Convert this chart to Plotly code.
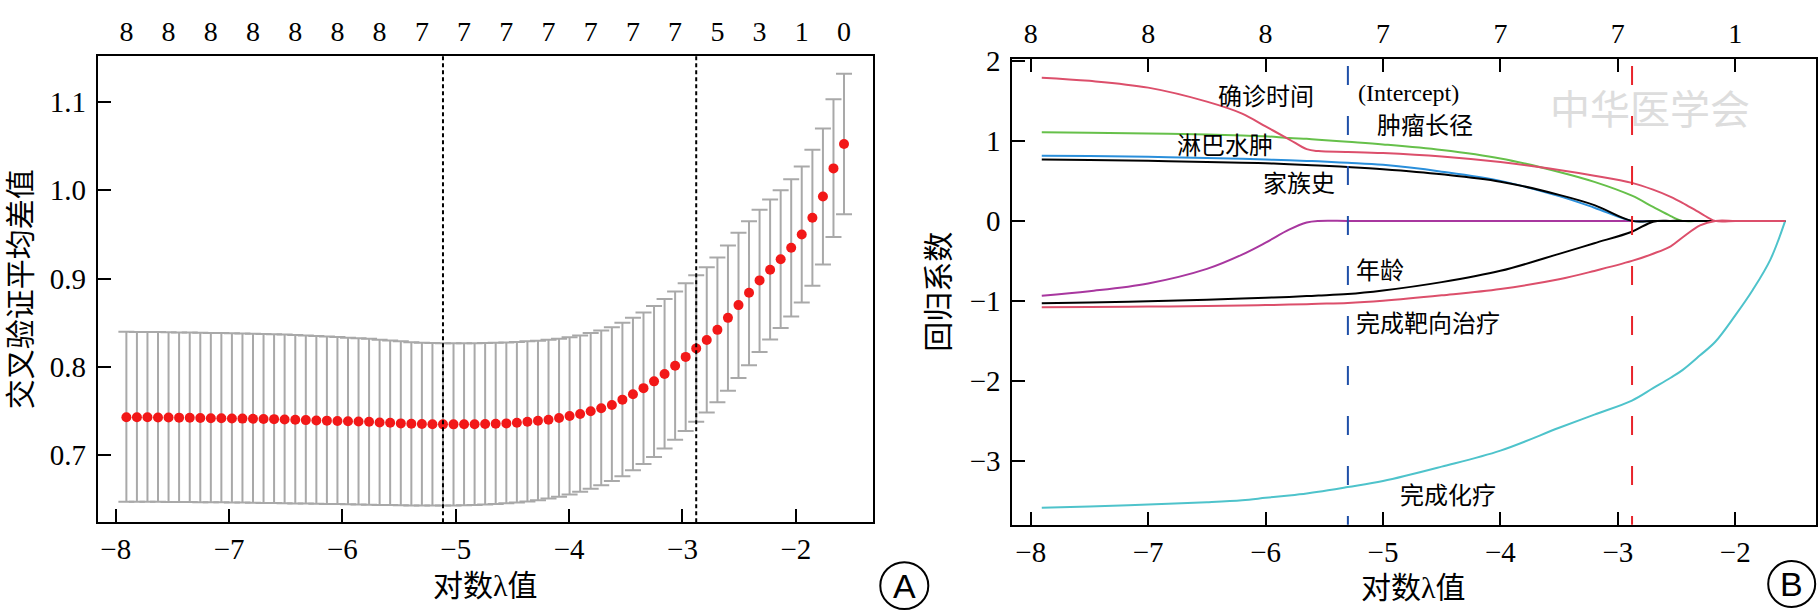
import plotly.graph_objects as go

# ---- panel A: cross-validation curve ----
log_lambda = [
    -7.906, -7.813, -7.720, -7.627, -7.534, -7.441, -7.347, -7.254, -7.161, -7.068,
    -6.975, -6.882, -6.789, -6.696, -6.603, -6.510, -6.416, -6.323, -6.230, -6.137,
    -6.044, -5.951, -5.858, -5.765, -5.672, -5.579, -5.485, -5.392, -5.299, -5.206,
    -5.113, -5.020, -4.927, -4.834, -4.741, -4.648, -4.554, -4.461, -4.368, -4.275,
    -4.182, -4.089, -3.996, -3.903, -3.810, -3.717, -3.623, -3.530, -3.437, -3.344,
    -3.251, -3.158, -3.065, -2.972, -2.879, -2.786, -2.692, -2.599, -2.506, -2.413,
    -2.320, -2.227, -2.134, -2.041, -1.948, -1.854, -1.761, -1.668, -1.575,
]
cv_mean = [
    0.7431, 0.7431, 0.7430, 0.7428, 0.7427, 0.7426, 0.7424, 0.7423, 0.7420, 0.7419,
    0.7416, 0.7415, 0.7413, 0.7411, 0.7409, 0.7405, 0.7402, 0.7398, 0.7394, 0.7392,
    0.7389, 0.7386, 0.7382, 0.7379, 0.7372, 0.7368, 0.7361, 0.7358, 0.7354, 0.7351,
    0.7350, 0.7350, 0.7351, 0.7352, 0.7354, 0.7357, 0.7361, 0.7368, 0.7380, 0.7391,
    0.7402, 0.7422, 0.7444, 0.7468, 0.7498, 0.7533, 0.7570, 0.7630, 0.7690, 0.7760,
    0.7837, 0.7920, 0.8014, 0.8114, 0.8210, 0.8306, 0.8420, 0.8556, 0.8700, 0.8840,
    0.8980, 0.9100, 0.9220, 0.9350, 0.9500, 0.9690, 0.9930, 1.0248, 1.0525,
]
cv_upper = [
    0.8398, 0.8397, 0.8396, 0.8395, 0.8393, 0.8391, 0.8389, 0.8387, 0.8385, 0.8383,
    0.8381, 0.8378, 0.8375, 0.8372, 0.8369, 0.8366, 0.8362, 0.8357, 0.8351, 0.8345,
    0.8339, 0.8332, 0.8326, 0.8318, 0.8309, 0.8299, 0.8290, 0.8281, 0.8275, 0.8271,
    0.8269, 0.8268, 0.8268, 0.8269, 0.8271, 0.8274, 0.8278, 0.8283, 0.8290, 0.8298,
    0.8308, 0.8320, 0.8336, 0.8355, 0.8385, 0.8414, 0.8450, 0.8500, 0.8557, 0.8616,
    0.8690, 0.8770, 0.8853, 0.8948, 0.9037, 0.9130, 0.9240, 0.9376, 0.9520, 0.9650,
    0.9780, 0.9897, 1.0000, 1.0126, 1.0270, 1.0460, 1.0700, 1.1030, 1.1320,
]
cv_lower = [
    0.6475, 0.6475, 0.6474, 0.6473, 0.6472, 0.6471, 0.6470, 0.6469, 0.6468, 0.6467,
    0.6465, 0.6464, 0.6463, 0.6461, 0.6459, 0.6457, 0.6455, 0.6453, 0.6451, 0.6449,
    0.6447, 0.6445, 0.6443, 0.6441, 0.6438, 0.6436, 0.6434, 0.6432, 0.6431, 0.6430,
    0.6430, 0.6431, 0.6434, 0.6438, 0.6443, 0.6449, 0.6456, 0.6465, 0.6476, 0.6490,
    0.6510, 0.6530, 0.6556, 0.6586, 0.6622, 0.6660, 0.6710, 0.6763, 0.6830, 0.6900,
    0.6980, 0.7077, 0.7176, 0.7276, 0.7380, 0.7483, 0.7600, 0.7730, 0.7874, 0.8020,
    0.8170, 0.8310, 0.8440, 0.8570, 0.8730, 0.8920, 0.9160, 0.9470, 0.9730,
]
cv_top_labels = ["8", "8", "8", "8", "8", "8", "8", "7", "7", "7",
                 "7", "7", "7", "7", "5", "3", "1", "0"]
cv_yticks = [0.7, 0.8, 0.9, 1.0, 1.1]
cv_yticklabels = ["0.7", "0.8", "0.9", "1.0", "1.1"]
cv_lambda_min = -5.113
cv_lambda_1se = -2.879

# ---- panel B: coefficient paths ----
path_log_lambda = [-7.906, -7.5, -7.0, -6.5, -6.2, -6.0, -5.8, -5.65, -5.55, -5.3,
                   -5.0, -4.5, -4.0, -3.5, -3.2, -2.88, -2.7, -2.55, -2.45, -2.3,
                   -2.17, -2.0, -1.85, -1.7, -1.575]
coef_paths = {
    "完成化疗": [-3.585, -3.57, -3.545, -3.515, -3.49, -3.46, -3.43, -3.405, -3.385, -3.325,
               -3.25, -3.07, -2.87, -2.585, -2.42, -2.245, -2.09, -1.96, -1.865, -1.68,
               -1.51, -1.18, -0.86, -0.48, 0.0],
    "(Intercept)": [-0.935, -0.878, -0.782, -0.60, -0.421, -0.272, -0.11, -0.02, 0.0, 0.0,
                    0, 0, 0, 0, 0, 0, 0, 0, 0, 0, 0, 0, 0, 0, 0],
    "肿瘤长径": [1.109, 1.10, 1.092, 1.079, 1.067, 1.057, 1.036, 1.025, 1.015, 0.988,
               0.955, 0.885, 0.78, 0.612, 0.488, 0.315, 0.174, 0.06, 0.0, 0,
               0, 0, 0, 0, 0],
    "淋巴水肿": [0.815, 0.81, 0.80, 0.785, 0.775, 0.767, 0.757, 0.749, 0.744, 0.726,
               0.70, 0.615, 0.50, 0.309, 0.165, 0.0, 0, 0, 0, 0,
               0, 0, 0, 0, 0],
    "家族史": [0.766, 0.76, 0.75, 0.737, 0.727, 0.72, 0.708, 0.698, 0.692, 0.673,
              0.645, 0.582, 0.49, 0.325, 0.197, 0.0, 0, 0, 0, 0,
              0, 0, 0, 0, 0],
    "年龄": [-1.03, -1.02, -1.005, -0.985, -0.97, -0.96, -0.95, -0.94, -0.933, -0.915,
           -0.87, -0.765, -0.624, -0.412, -0.279, -0.135, -0.01, 0.0, 0, 0,
           0, 0, 0, 0, 0],
    "完成靶向治疗": [-1.078, -1.075, -1.07, -1.064, -1.058, -1.052, -1.046, -1.04, -1.036, -1.026,
                 -0.998, -0.93, -0.85, -0.729, -0.625, -0.50, -0.41, -0.317, -0.208, -0.056,
                 0.0, 0, 0, 0, 0],
    "确诊时间": [1.79, 1.75, 1.665, 1.49, 1.34, 1.18, 1.02, 0.896, 0.872, 0.862,
               0.848, 0.805, 0.735, 0.636, 0.565, 0.475, 0.39, 0.30, 0.225, 0.10,
               0.0, 0, 0, 0, 0],
}
path_colors = {
    "完成化疗": "#4EC3CB", "(Intercept)": "#A8379F", "肿瘤长径": "#66C04A",
    "淋巴水肿": "#2A8FDB", "家族史": "#000000", "年龄": "#000000",
    "完成靶向治疗": "#DC4F6B", "确诊时间": "#DC4F6B",
}
x_ticks = [-8, -7, -6, -5, -4, -3, -2]
x_ticklabels = ["\u22128", "\u22127", "\u22126", "\u22125", "\u22124", "\u22123", "\u22122"]
path_yticks = [-3, -2, -1, 0, 1, 2]
path_yticklabels = ["\u22123", "\u22122", "\u22121", "0", "1", "2"]
path_top_labels = ["8", "8", "8", "7", "7", "7", "1"]
path_lambda_min = -5.299
path_lambda_1se = -2.879

# label anchor points (data coords of panel B)
label_pos = {
    "确诊时间": (-6.00, 1.553), "(Intercept)": (-4.78, 1.60), "肿瘤长径": (-4.643, 1.19),
    "淋巴水肿": (-6.346, 0.936), "家族史": (-5.714, 0.456), "年龄": (-5.029, -0.63),
    "完成靶向治疗": (-4.614, -1.289), "完成化疗": (-4.447, -3.438),
}

W, H = 1820, 614
SERIF = "Liberation Serif, Noto Sans CJK SC"


def px_x(p):
    return p / W


def px_y(p):
    return 1 - p / H


fig = go.Figure()

fig.add_trace(go.Scatter(
    x=log_lambda, y=cv_mean, mode="markers",
    marker=dict(color="#F21818", size=10),
    error_y=dict(type="data", symmetric=False,
                 array=[u - m for u, m in zip(cv_upper, cv_mean)],
                 arrayminus=[m - l for m, l in zip(cv_mean, cv_lower)],
                 color="#A9A9A9", thickness=2, width=8),
    xaxis="x", yaxis="y", showlegend=False, hoverinfo="skip",
))

for name, vals in coef_paths.items():
    fig.add_trace(go.Scatter(
        x=path_log_lambda, y=vals, mode="lines",
        line=dict(color=path_colors[name], width=2, shape="spline", smoothing=1.0),
        xaxis="x2", yaxis="y2", showlegend=False, name=name,
    ))

# invisible traces so the top (df) axes get drawn
fig.add_trace(go.Scatter(x=[log_lambda[0]], y=[cv_mean[0]], mode="markers",
                         marker=dict(opacity=0), xaxis="x3", yaxis="y",
                         showlegend=False, hoverinfo="skip"))
fig.add_trace(go.Scatter(x=[path_log_lambda[0]], y=[0], mode="markers",
                         marker=dict(opacity=0), xaxis="x4", yaxis="y2",
                         showlegend=False, hoverinfo="skip"))

tickfont = dict(family=SERIF, size=29, color="black")
frame = dict(showline=True, linecolor="black", linewidth=2, mirror=True,
             showgrid=False, zeroline=False, ticks="inside", ticklen=13,
             tickwidth=2, tickcolor="black", tickfont=tickfont)
topfont = dict(family=SERIF, size=28, color="black")

dom_ax = [px_x(97.7), px_x(872.7)]
dom_ay = [px_y(520), px_y(43.3)]
dom_bx = [px_x(1012.3), px_x(1815.7)]
dom_by = [px_y(522.7), px_y(45.7)]
range_a = [-8.159, -1.322]
range_b = [-8.157, -1.315]

fig.update_layout(
    width=W, height=H, margin=dict(l=0, r=0, t=0, b=0),
    paper_bgcolor="white", plot_bgcolor="white",
    xaxis=dict(domain=dom_ax, anchor="y", range=range_a,
               tickvals=x_ticks, ticktext=x_ticklabels, ticklabelstandoff=0, **frame),
    yaxis=dict(domain=dom_ay, anchor="x", range=[0.6243, 1.1517],
               tickvals=cv_yticks, ticktext=cv_yticklabels,
               ticklabelstandoff=4, **frame),
    xaxis3=dict(overlaying="x", anchor="y", side="top", range=range_a,
                tickvals=log_lambda[::4], ticktext=cv_top_labels, ticks="",
                showline=False, showgrid=False, zeroline=False,
                tickfont=topfont, ticklabelstandoff=9),
    xaxis2=dict(domain=dom_bx, anchor="y2", range=range_b,
                tickvals=x_ticks, ticktext=x_ticklabels, ticklabelstandoff=0, **frame),
    yaxis2=dict(domain=dom_by, anchor="x2", range=[-3.797, 2.027],
                tickvals=path_yticks, ticktext=path_yticklabels,
                ticklabelstandoff=4, **frame),
    xaxis4=dict(overlaying="x2", anchor="y2", side="top", range=range_b,
                tickvals=x_ticks, ticktext=path_top_labels, ticks="inside",
                ticklen=13, tickwidth=2, tickcolor="black",
                showline=False, showgrid=False, zeroline=False,
                tickfont=topfont, ticklabelstandoff=9),
)

shapes = []
for xv in (cv_lambda_min, cv_lambda_1se):
    shapes.append(dict(type="line", xref="x", yref="y domain", x0=xv, x1=xv, y0=1, y1=0,
                       line=dict(color="black", width=2, dash="4px,3px")))
top_start = (522.7 - 53.3) / (522.7 - 45.7)
for xv, col in ((path_lambda_min, "#1F4FA8"), (path_lambda_1se, "#E8242B")):
    shapes.append(dict(type="line", xref="x2", yref="y2 domain", x0=xv, x1=xv,
                       y0=top_start, y1=0, line=dict(color=col, width=2, dash="19px,31px")))
for cx, cy, r in ((904.3, 585, 24), (1791.7, 583.3, 23.5)):
    shapes.append(dict(type="circle", xref="paper", yref="paper",
                       x0=px_x(cx - r), x1=px_x(cx + r), y0=px_y(cy + r), y1=px_y(cy - r),
                       line=dict(color="black", width=2)))
fig.update_layout(shapes=shapes)

mid = dict(showarrow=False, xanchor="center", yanchor="middle")
ann = []
for name, (lx, ly) in label_pos.items():
    ann.append(dict(x=lx, y=ly, xref="x2", yref="y2", text=name,
                    font=dict(family=SERIF, size=24, color="black"), **mid))
title_font = dict(family=SERIF, size=30, color="black")
ann += [
    dict(x=px_x(485), y=px_y(585), xref="paper", yref="paper", text="对数λ值",
         font=title_font, **mid),
    dict(x=px_x(1413.3), y=px_y(586.7), xref="paper", yref="paper", text="对数λ值",
         font=title_font, **mid),
    dict(x=px_x(20), y=px_y(281.7), xref="paper", yref="paper", text="交叉验证平均差值",
         textangle=-90, font=title_font, **mid),
    dict(x=px_x(939), y=px_y(284.2), xref="paper", yref="paper", text="回归系数",
         textangle=-90, font=title_font, **mid),
    dict(x=px_x(904.3), y=px_y(585), xref="paper", yref="paper", text="A",
         font=dict(family="Liberation Sans", size=34, color="black"), **mid),
    dict(x=px_x(1791.7), y=px_y(583.3), xref="paper", yref="paper", text="B",
         font=dict(family="Liberation Sans", size=34, color="black"), **mid),
    # faint watermark
    dict(x=px_x(1650), y=px_y(95), xref="paper", yref="paper", text="中华医学会",
         font=dict(family="Noto Sans CJK SC", size=40, color="#DDDDDD"), **mid),
]
fig.update_layout(annotations=ann)

fig.write_html("out.html", config={"displayModeBar": False},
               post_script="document.body.style.margin='0';")
